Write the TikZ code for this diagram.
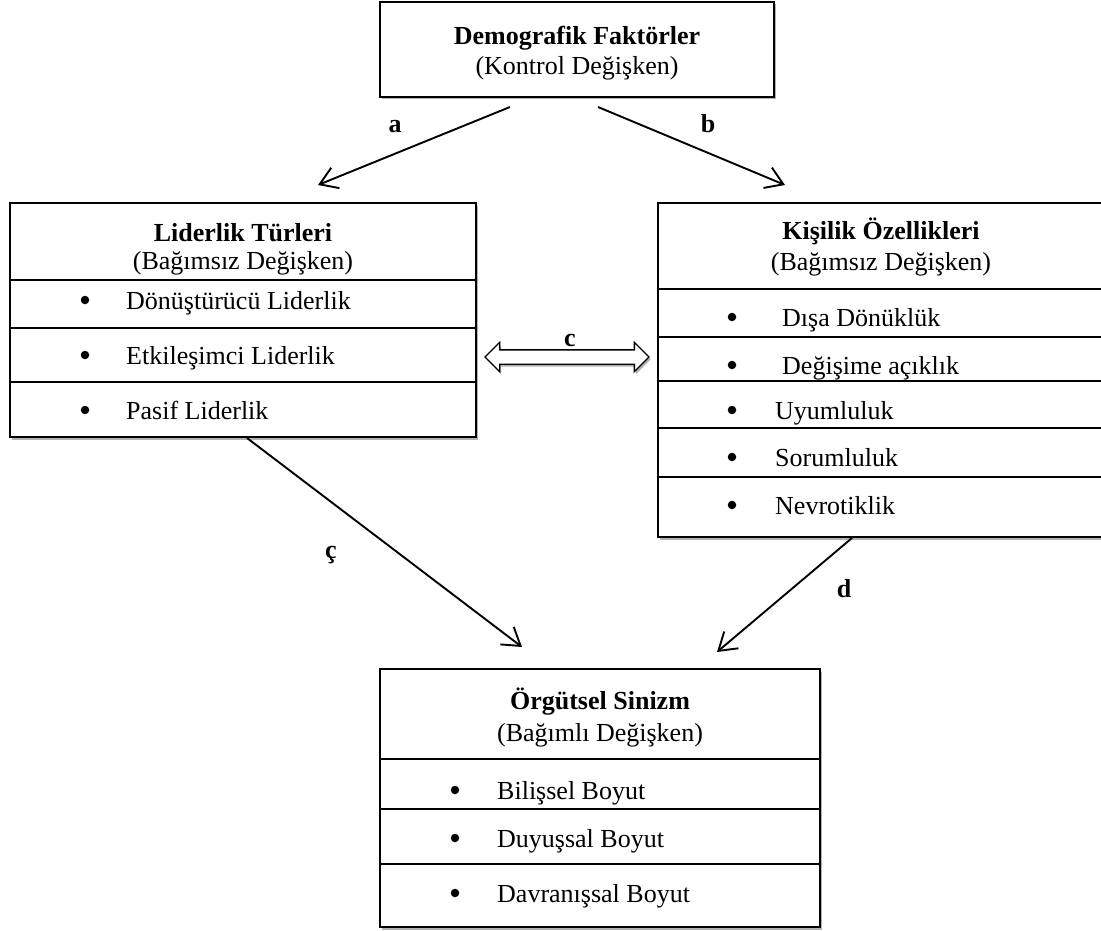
\documentclass[tikz,border=0pt]{standalone}
\usepackage{fontspec}
\setmainfont{Liberation Serif}
\usetikzlibrary{arrows.meta,shadows,fit,backgrounds,shapes.arrows}
\begin{document}
\begin{tikzpicture}[x=1pt,y=-1pt,
 txt/.style={font=\fontsize{26}{31}\selectfont, inner sep=0pt},
 hd/.style={txt, font=\fontsize{26}{31}\selectfont\bfseries, anchor=base},
 sub/.style={txt, anchor=base},
 bul/.style={circle, fill=black, inner sep=0pt, minimum size=8.5pt},
 itm/.style={txt, anchor=base west},
 lab/.style={txt, font=\fontsize{26}{31}\selectfont\bfseries, anchor=base},
 cell/.style={draw, line width=1.3pt, anchor=north west, inner sep=0pt, outer sep=0pt},
 frame/.style={draw, line width=2pt, fill=white, inner sep=0pt, outer sep=0pt,
   drop shadow={shadow xshift=1.5pt, shadow yshift=-2.5pt, fill=black, opacity=0.3}},
 arr/.style={line width=1.9pt, -{Straight Barb[length=17pt,width=22pt,line width=1.9pt]}},
 dbl/.style={double arrow, draw, line width=1.4pt, fill=white, inner sep=6.5pt,
   double arrow head extend=7.5pt, minimum height=164pt,
   drop shadow={shadow xshift=1.5pt, shadow yshift=-2.5pt, fill=black, opacity=0.3}}
]
\useasboundingbox (0,0) rectangle (1101,931);

% top box
\node[frame, anchor=north west, minimum width=394pt, minimum height=95pt] (dem) at (380,2) {};
\node[hd] (demA) at (577,45) {Demografik Faktörler};
\node[sub] (demB) at (577,75) {(Kontrol Değişken)};

% left box
\node[cell, minimum width=466pt, minimum height=77pt] (lt0) at (10,203) {};
\node[cell, minimum width=466pt, minimum height=48pt] (lt1) at (10,280) {};
\node[cell, minimum width=466pt, minimum height=54pt] (lt2) at (10,328) {};
\node[cell, minimum width=466pt, minimum height=55pt] (lt3) at (10,382) {};
\begin{scope}[on background layer]
\node[frame, fit=(lt0)(lt3)] (lt) {};
\end{scope}
\node[hd] (ltA) at (243,241) {Liderlik Türleri};
\node[sub] (ltB) at (243,269) {(Bağımsız Değişken)};
\node[bul] (lb1) at (85,300) {};
\node[itm] (li1) at (126,309) {Dönüştürücü Liderlik};
\node[bul] (lb2) at (85,355) {};
\node[itm] (li2) at (126,364) {Etkileşimci Liderlik};
\node[bul] (lb3) at (85,410) {};
\node[itm] (li3) at (126,419) {Pasif Liderlik};

% right box
\node[cell, minimum width=446pt, minimum height=86pt] (rt0) at (658,203) {};
\node[cell, minimum width=446pt, minimum height=48pt] (rt1) at (658,289) {};
\node[cell, minimum width=446pt, minimum height=44pt] (rt2) at (658,337) {};
\node[cell, minimum width=446pt, minimum height=47pt] (rt3) at (658,381) {};
\node[cell, minimum width=446pt, minimum height=49pt] (rt4) at (658,428) {};
\node[cell, minimum width=446pt, minimum height=60pt] (rt5) at (658,477) {};
\begin{scope}[on background layer]
\node[frame, fit=(rt0)(rt5)] (rt) {};
\end{scope}
\node[hd] (rtA) at (881,240) {Kişilik Özellikleri};
\node[sub] (rtB) at (881,270) {(Bağımsız Değişken)};
\node[bul] (rb1) at (732,317) {};
\node[itm] (ri1) at (782,326) {Dışa Dönüklük};
\node[bul] (rb2) at (732,365) {};
\node[itm] (ri2) at (782,374) {Değişime açıklık};
\node[bul] (rb3) at (732,410) {};
\node[itm] (ri3) at (775,419) {Uyumluluk};
\node[bul] (rb4) at (732,457) {};
\node[itm] (ri4) at (775,466) {Sorumluluk};
\node[bul] (rb5) at (732,505) {};
\node[itm] (ri5) at (775,514) {Nevrotiklik};

% bottom box
\node[cell, minimum width=440pt, minimum height=90pt] (bt0) at (380,669) {};
\node[cell, minimum width=440pt, minimum height=50pt] (bt1) at (380,759) {};
\node[cell, minimum width=440pt, minimum height=55pt] (bt2) at (380,809) {};
\node[cell, minimum width=440pt, minimum height=63pt] (bt3) at (380,864) {};
\begin{scope}[on background layer]
\node[frame, fit=(bt0)(bt3)] (bt) {};
\end{scope}
\node[hd] (btA) at (600,709) {Örgütsel Sinizm};
\node[sub] (btB) at (600,741) {(Bağımlı Değişken)};
\node[bul] (bb1) at (455,790) {};
\node[itm] (bi1) at (497,799) {Bilişsel Boyut};
\node[bul] (bb2) at (455,838) {};
\node[itm] (bi2) at (497,847) {Duyuşsal Boyut};
\node[bul] (bb3) at (455,893) {};
\node[itm] (bi3) at (497,902) {Davranışsal Boyut};

% connectors
\coordinate (a1) at (510,107); \coordinate (a2) at (318,185);
\coordinate (b1) at (598,107); \coordinate (b2) at (785,185);
\coordinate (c1) at (247,438); \coordinate (c2) at (522,647);
\coordinate (d1) at (852,538); \coordinate (d2) at (717,652);
\draw[arr] (a1) -- (a2);
\draw[arr] (b1) -- (b2);
\draw[arr] (c1) -- (c2);
\draw[arr] (d1) -- (d2);
\node[dbl] (cc) at (567,357) {};

% labels
\node[lab] (la) at (395,133) {a};
\node[lab] (lb) at (708,133) {b};
\node[lab] (lc) at (570,346) {c};
\node[lab] (lcc) at (331,558) {ç};
\node[lab] (ld) at (844,597) {d};
\end{tikzpicture}
\end{document}
